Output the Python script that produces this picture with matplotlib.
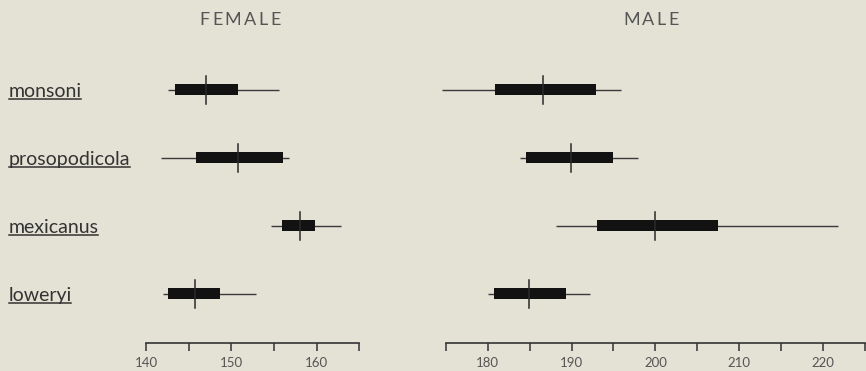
import matplotlib
matplotlib.use("Agg")
import matplotlib.pyplot as plt
from matplotlib.transforms import blended_transform_factory
from matplotlib.lines import Line2D

species = ["monsoni", "prosopodicola", "mexicanus", "loweryi"]

female_min = [142.6, 141.8, 154.7, 142.0]
female_lo = [143.4, 145.9, 155.9, 142.6]
female_mean = [147.0, 150.8, 158.0, 145.8]
female_hi = [150.8, 156.0, 159.8, 148.7]
female_max = [155.6, 156.8, 162.9, 152.9]

male_min = [174.6, 183.8, 188.1, 180.0]
male_lo = [180.9, 184.6, 193.0, 180.8]
male_mean = [186.6, 189.9, 199.9, 184.9]
male_hi = [192.9, 194.9, 207.5, 189.3]
male_max = [195.9, 197.9, 221.8, 192.2]

female_ticks = [140, 145, 150, 155, 160, 165]
female_labels = ["140", "", "150", "", "160", ""]
male_ticks = [175, 180, 185, 190, 195, 200, 205, 210, 215, 220, 225]
male_labels = ["", "180", "", "190", "", "200", "", "210", "", "220", ""]

BG = "#e4e1d5"
INK = "#333333"
W, H = 866, 371

fig = plt.figure(figsize=(W / 100, H / 100), dpi=100, facecolor=BG)

bottom_px, top_px = 342.7, 40.0
ax_b = 1 - bottom_px / H
ax_h = (bottom_px - top_px) / H

ax_f = fig.add_axes([146 / W, ax_b, 213.3 / W, ax_h])
ax_m = fig.add_axes([445.7 / W, ax_b, 419.5 / W, ax_h])

bar_h = 0.16
mean_half = 0.205


def draw_panel(ax, lo_w, lo, mean, hi, hi_w, ticks, labels):
    ax.set_facecolor("none")
    for i in range(len(species)):
        ax.plot([lo_w[i], hi_w[i]], [i, i], color="#3a3a3a", lw=1.0,
                solid_capstyle="butt", clip_on=False, zorder=2)
        ax.barh(i, hi[i] - lo[i], left=lo[i], height=bar_h, color="#121212",
                edgecolor="none", zorder=3)
        ax.plot([mean[i], mean[i]], [i - mean_half, i + mean_half],
                color="#2a2a2a", lw=1.1, clip_on=False, zorder=4)
    ax.set_xlim(ticks[0], ticks[-1])
    ax.set_ylim(3.72, -0.73)
    for s in ("top", "right", "left"):
        ax.spines[s].set_visible(False)
    ax.spines["bottom"].set_color("#333333")
    ax.spines["bottom"].set_linewidth(1.2)
    ax.set_yticks([])
    ax.set_xticks(ticks)
    ax.set_xticklabels(labels)
    ax.tick_params(axis="x", direction="out", length=6, width=1.1,
                   color="#333333", labelcolor="#555555", labelsize=9.5,
                   pad=4)
    for lab in ax.get_xticklabels():
        lab.set_family("Lato")


draw_panel(ax_f, female_min, female_lo, female_mean, female_hi, female_max,
           female_ticks, female_labels)
draw_panel(ax_m, male_min, male_lo, male_mean, male_hi, male_max,
           male_ticks, male_labels)


def spaced_title(xc, yc, text, size, gap):
    """Write a title one letter at a time with extra tracking."""
    renderer = fig.canvas.get_renderer()
    arts, widths = [], []
    for ch in text:
        t = fig.text(0, yc / H, ch, ha="left", va="center", fontsize=size,
                     color="#555555", family="Lato")
        widths.append(t.get_window_extent(renderer).width)
        arts.append(t)
    total = sum(widths) + gap * (len(text) - 1)
    x = xc - total / 2
    for t, w in zip(arts, widths):
        t.set_x(x / W)
        x += w + gap


fig.canvas.draw()
spaced_title(240, H - 20, "FEMALE", 13, 2.5)
spaced_title(651, H - 20, "MALE", 13, 2.5)

# species names, underlined
trans = blended_transform_factory(fig.transFigure, ax_f.transData)
names = []
for i, name in enumerate(species):
    t = fig.text(9 / W, i + 0.103, name, transform=trans, ha="left",
                 va="baseline", fontsize=14, color=INK, family="Lato")
    names.append(t)

fig.canvas.draw()
renderer = fig.canvas.get_renderer()
for i, t in enumerate(names):
    bb = t.get_window_extent(renderer)
    y_base = ax_f.transData.transform((0, i + 0.103))[1]
    y_line = (y_base - 2.5) / H
    fig.add_artist(Line2D([bb.x0 / W, (bb.x1 - 1) / W], [y_line, y_line],
                          transform=fig.transFigure, color=INK, lw=1.1))

fig.savefig("out.png", dpi=100, facecolor=BG)
